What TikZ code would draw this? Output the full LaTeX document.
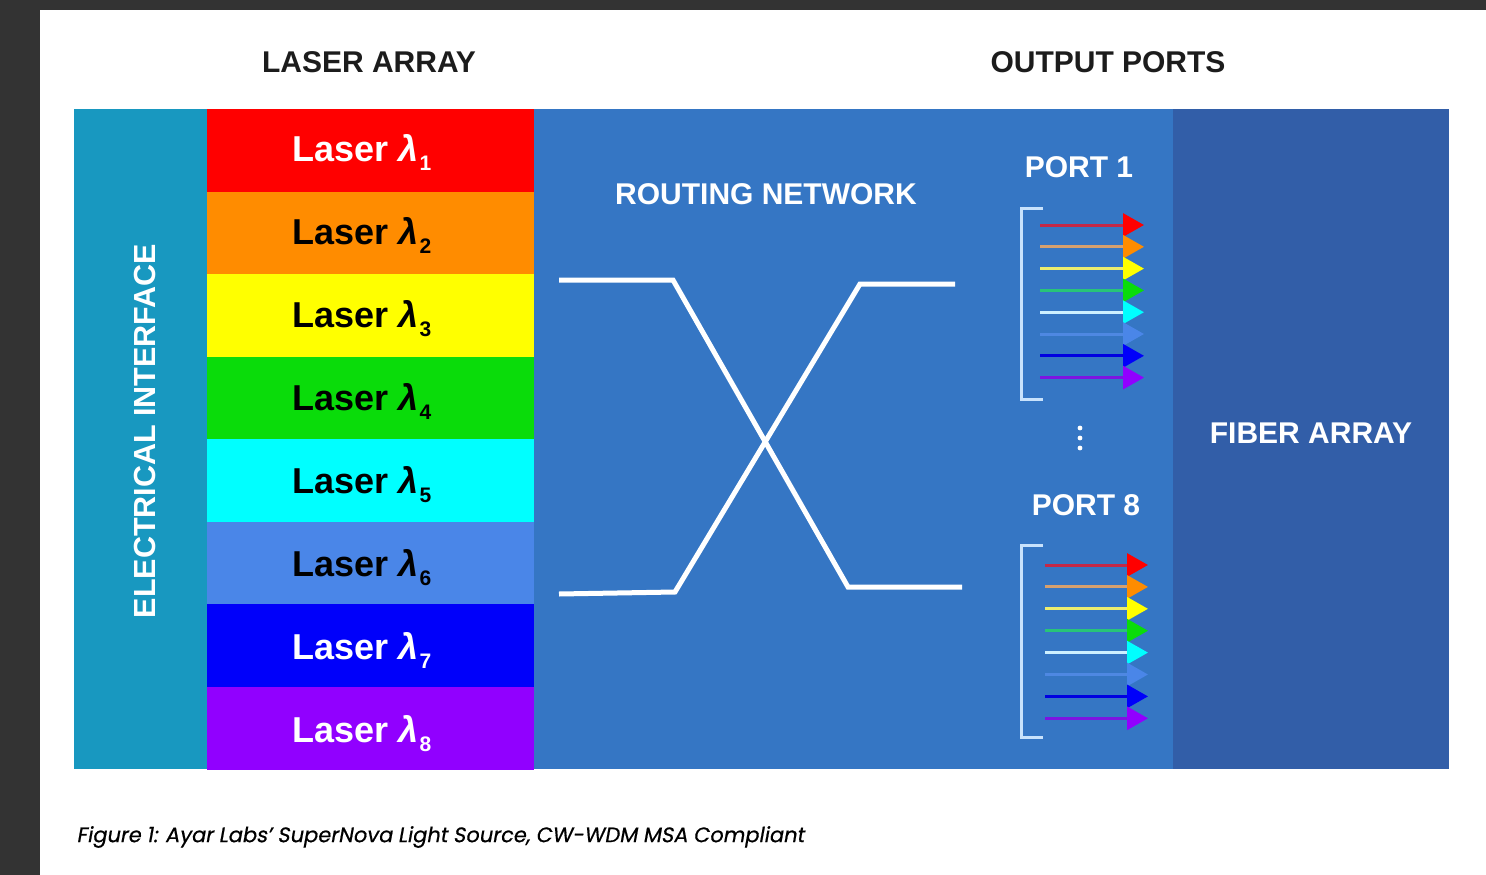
\documentclass[tikz,border=0pt]{standalone}
\usepackage{fontspec}
\setmainfont{Liberation Sans}
\newfontfamily\capfont[FakeSlant=0.18,FakeBold=0.6]{Poppins}
\usetikzlibrary{arrows.meta}

\definecolor{pagedark}{RGB}{51,51,51}
\definecolor{ink}{RGB}{28,28,28}
\definecolor{electeal}{RGB}{24,152,192}
\definecolor{routeblue}{RGB}{53,118,196}
\definecolor{fiberblue}{RGB}{50,94,168}
\definecolor{bracketblue}{RGB}{200,226,252}
% laser band colours
\definecolor{lzA}{RGB}{255,0,0}
\definecolor{lzB}{RGB}{255,140,0}
\definecolor{lzC}{RGB}{255,255,0}
\definecolor{lzD}{RGB}{10,220,10}
\definecolor{lzE}{RGB}{0,255,255}
\definecolor{lzF}{RGB}{74,134,232}
\definecolor{lzG}{RGB}{0,0,250}
\definecolor{lzH}{RGB}{145,0,255}
% arrow shaft tints
\definecolor{szA}{RGB}{196,40,72}
\definecolor{szB}{RGB}{214,160,110}
\definecolor{szC}{RGB}{236,236,110}
\definecolor{szD}{RGB}{40,196,120}
\definecolor{szE}{RGB}{205,240,255}
\definecolor{szF}{RGB}{78,136,226}
\definecolor{szG}{RGB}{0,0,225}
\definecolor{szH}{RGB}{125,20,225}

\tikzset{
  block/.style={draw=none, inner sep=0pt, outer sep=0pt, anchor=north west},
  headfont/.style={font=\fontsize{30}{36}\selectfont\bfseries},
  laserfont/.style={font=\fontsize{36}{40}\selectfont\bfseries},
  route/.style={draw=white, line width=5pt, line join=miter},
  bracket/.style={draw=bracketblue, line width=3pt},
  beam/.style={line width=3pt},
}

% small lowered index after a wavelength symbol
\newcommand{\lamidx}[1]{\raisebox{-9pt}{\fontsize{21}{21}\selectfont #1}}

% eight coloured beams from x=#1 to x=#2, first at y=#3, spacing #4, names prefixed #5
\newcommand{\beamfan}[5]{%
  \foreach \sc/\hc [count=\k] in {szA/lzA,szB/lzB,szC/lzC,szD/lzD,szE/lzE,szF/lzF,szG/lzG,szH/lzH}{%
    \coordinate (#5s\k) at (#1,{#3+#4*(\k-1)});
    \coordinate (#5e\k) at (#2,{#3+#4*(\k-1)});
    \draw[beam, draw=\sc, -{Triangle[length=21pt,width=23pt,color=\hc]}] (#5s\k) -- (#5e\k);
  }%
}

\begin{document}
\begin{tikzpicture}[x=1pt,y=-1pt]
\useasboundingbox (0,0) rectangle (1486,875);
\fill[pagedark] (0,0) rectangle (1486,875);
\fill[white] (40,10) rectangle (1486,875);

% column headings
\node[headfont, text=ink] (hlaser) at (369,62) {LASER ARRAY};
\node[headfont, text=ink] (hports) at (1108,62) {OUTPUT PORTS};

% main blocks
\node[block, fill=electeal, minimum width=134pt, minimum height=660pt] (elec) at (74,109) {};
\node[block, fill=routeblue, minimum width=640pt, minimum height=660pt] (route) at (534,109) {};
\node[block, fill=fiberblue, minimum width=276pt, minimum height=660pt] (fiber) at (1173,109) {};

\node[text=white, rotate=90, font=\fontsize{30.5}{34}\selectfont\bfseries] (elecl) at (145,431) {ELECTRICAL INTERFACE};

% laser bands
\foreach \col/\tc [count=\i] in {lzA/white,lzB/black,lzC/black,lzD/black,lzE/black,lzF/black,lzG/white,lzH/white}{
  \node[block, fill=\col, minimum width=327pt, minimum height=83pt] (las\i) at (207,{109+82.5*(\i-1)}) {};
  \node[laserfont, text=\tc, anchor=base] (lab\i) at (362,{109+82.5*(\i-1)+52+0.5*\i}) {Laser {\itshape λ}\kern1pt\lamidx{\i}};
}

% routing network
\node[headfont, text=white] (rtitle) at (766,194) {ROUTING NETWORK};
\coordinate (ra1) at (559,280);
\coordinate (ra2) at (673,280);
\coordinate (ra3) at (848,587);
\coordinate (ra4) at (962,587);
\coordinate (rb1) at (559,594);
\coordinate (rb2) at (675,592);
\coordinate (rb3) at (860,284);
\coordinate (rb4) at (955,284);
\draw[route] (ra1) -- (ra2) -- (ra3) -- (ra4);
\draw[route] (rb1) -- (rb2) -- (rb3) -- (rb4);

% output ports
\node[headfont, text=white] (p1) at (1079,167) {PORT 1};
\node[headfont, text=white] (p8) at (1086,505) {PORT 8};
\coordinate (b1a) at (1043,208);
\coordinate (b1b) at (1021,208);
\coordinate (b1c) at (1021,399);
\coordinate (b1d) at (1043,399);
\draw[bracket] (b1a) -- (b1b) -- (b1c) -- (b1d);
\coordinate (b8a) at (1043,545);
\coordinate (b8b) at (1021,545);
\coordinate (b8c) at (1021,737);
\coordinate (b8d) at (1043,737);
\draw[bracket] (b8a) -- (b8b) -- (b8c) -- (b8d);
\beamfan{1040}{1144}{225}{21.8}{pa}
\beamfan{1045}{1148}{565}{21.9}{pb}

% ellipsis between ports
\foreach \yy [count=\j] in {428,438,448}{
  \fill[white] (1080,\yy) circle (2.4pt) coordinate (dot\j);
}

\node[headfont, text=white] (ftitle) at (1311,433) {FIBER ARRAY};

% caption
\node[anchor=west, text=black, font=\capfont\fontsize{21}{25}\selectfont] (cap) at (73,837) {Figure 1: Ayar Labs’ SuperNova Light Source, CW-WDM MSA Compliant};
\end{tikzpicture}
\end{document}
